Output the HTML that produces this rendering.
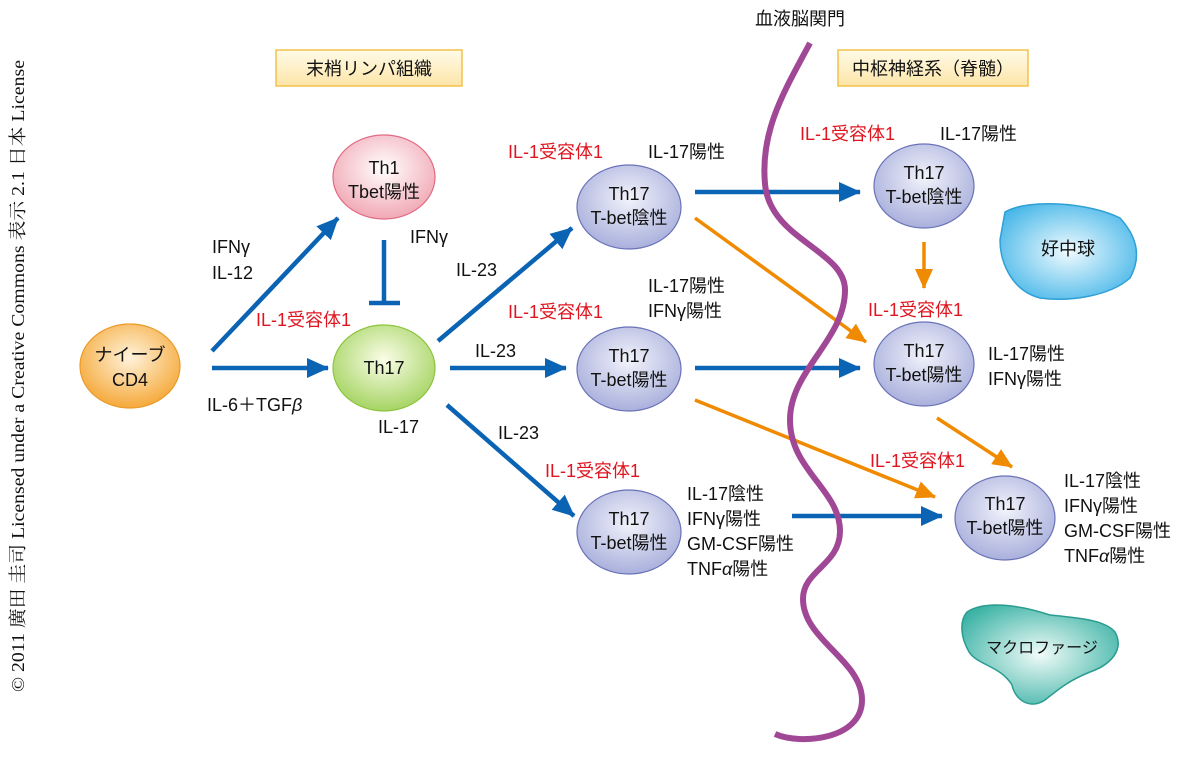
<!DOCTYPE html>
<html><head><meta charset="utf-8"><style>
body{margin:0;background:#fff;}
svg text{font-family:"Liberation Sans","Noto Sans CJK JP",sans-serif;font-size:18px;fill:#111;}
.r{fill:#e0141e !important;}
</style></head><body>
<svg width="1200" height="756" viewBox="0 0 1200 756" xmlns="http://www.w3.org/2000/svg">
<defs>
<radialGradient id="gO" cx="50%" cy="40%" r="60%"><stop offset="0" stop-color="#fff3dc"/><stop offset="1" stop-color="#f5a93a"/></radialGradient>
<radialGradient id="gP" cx="50%" cy="40%" r="60%"><stop offset="0" stop-color="#fff"/><stop offset="1" stop-color="#f1a8b4"/></radialGradient>
<radialGradient id="gG" cx="50%" cy="40%" r="60%"><stop offset="0" stop-color="#fafde8"/><stop offset="1" stop-color="#a6d463"/></radialGradient>
<radialGradient id="gB" cx="50%" cy="40%" r="60%"><stop offset="0" stop-color="#f2f3fb"/><stop offset="1" stop-color="#a9b0dc"/></radialGradient>
<radialGradient id="gC" cx="50%" cy="50%" r="60%"><stop offset="0" stop-color="#f0fbff"/><stop offset="1" stop-color="#46b6e8"/></radialGradient>
<radialGradient id="gT" cx="50%" cy="50%" r="60%"><stop offset="0" stop-color="#f0fbf8"/><stop offset="1" stop-color="#3db3a6"/></radialGradient>
<linearGradient id="gY" x1="0" y1="0" x2="0" y2="1"><stop offset="0" stop-color="#fffbe8"/><stop offset="1" stop-color="#fde5a8"/></linearGradient>
<marker id="aB" markerWidth="22" markerHeight="20" refX="21" refY="10" orient="auto" markerUnits="userSpaceOnUse" viewBox="0 0 22 20"><path d="M0,0 L22,10 L0,20z" fill="#0a63b3"/></marker>
<marker id="aO" markerWidth="20" markerHeight="18" refX="19" refY="9" orient="auto" markerUnits="userSpaceOnUse" viewBox="0 0 20 18"><path d="M0,0 L20,9 L0,18z" fill="#f08a00"/></marker>
</defs>

<text x="0" y="0" transform="translate(24,692) rotate(-90)" textLength="632" lengthAdjust="spacingAndGlyphs" style="font-family:'Liberation Serif','Noto Serif CJK SC',serif;font-size:18px">© 2011 廣田 圭司 Licensed under a Creative Commons 表示 2.1 日本 License</text>

<rect x="276" y="50" width="186" height="36" fill="url(#gY)" stroke="#f2c24a" stroke-width="1.5"/>
<text x="369" y="75" text-anchor="middle">末梢リンパ組織</text>
<rect x="838" y="50" width="190" height="36" fill="url(#gY)" stroke="#f2c24a" stroke-width="1.5"/>
<text x="933" y="75" text-anchor="middle">中枢神経系（脊髄）</text>
<text x="800" y="25" text-anchor="middle">血液脳関門</text>

<path d="M1005,212 C1030,198 1090,203 1120,218 C1140,240 1140,260 1130,278 C1110,296 1070,302 1040,298 C1010,290 1000,260 1000,240 Z" fill="url(#gC)" stroke="#2f9fd6" stroke-width="1.5"/>
<text x="1068" y="255" text-anchor="middle">好中球</text>
<path d="M967,612 C985,600 1020,605 1050,615 C1080,618 1105,620 1115,632 C1125,650 1110,665 1090,672 C1070,680 1060,688 1045,700 C1030,710 1015,700 1012,685 C1000,665 975,665 968,650 C960,635 960,620 967,612 Z" fill="url(#gT)" stroke="#2a9c90" stroke-width="1.5"/>
<text x="1042" y="653" text-anchor="middle" style="font-size:16px">マクロファージ</text>

<g stroke="#0a63b3" stroke-width="4.5" fill="none">
<line x1="212" y1="351" x2="338" y2="218" marker-end="url(#aB)"/>
<line x1="212" y1="368" x2="328" y2="368" marker-end="url(#aB)"/>
<line x1="384" y1="240" x2="384" y2="303"/>
<line x1="369" y1="303" x2="400" y2="303"/>
<line x1="438" y1="341" x2="572" y2="228" marker-end="url(#aB)"/>
<line x1="450" y1="368" x2="566" y2="368" marker-end="url(#aB)"/>
<line x1="447" y1="405" x2="574" y2="516" marker-end="url(#aB)"/>
<line x1="695" y1="192" x2="860" y2="192" marker-end="url(#aB)"/>
<line x1="695" y1="368" x2="860" y2="368" marker-end="url(#aB)"/>
<line x1="792" y1="516" x2="942" y2="516" marker-end="url(#aB)"/>
</g>
<g stroke="#f08a00" stroke-width="3.5" fill="none">
<line x1="924" y1="242" x2="924" y2="288" marker-end="url(#aO)"/>
<line x1="695" y1="218" x2="866" y2="342" marker-end="url(#aO)"/>
<line x1="937" y1="418" x2="1012" y2="467" marker-end="url(#aO)"/>
<line x1="695" y1="400" x2="935" y2="497" marker-end="url(#aO)"/>
</g>

<path d="M810,43 C785,90 760,130 765,184 C770,240 845,250 845,290 C845,340 790,370 790,420 C790,470 840,490 840,531 C840,565 803,570 803,599 C803,640 862,660 862,700 C862,740 800,745 775,734" fill="none" stroke="#a04896" stroke-width="6"/>

<ellipse cx="130" cy="366" rx="50" ry="42" fill="url(#gO)" stroke="#eb9a2a" stroke-width="1.2"/>
<text x="130" y="361" text-anchor="middle">ナイーブ</text><text x="130" y="386" text-anchor="middle">CD4</text>
<ellipse cx="384" cy="177" rx="51" ry="42" fill="url(#gP)" stroke="#e06a84" stroke-width="1.2"/>
<text x="384" y="174" text-anchor="middle">Th1</text><text x="384" y="198" text-anchor="middle">Tbet陽性</text>
<ellipse cx="384" cy="368" rx="51" ry="43" fill="url(#gG)" stroke="#8cc43e" stroke-width="1.2"/>
<text x="384" y="374" text-anchor="middle">Th17</text>

<g fill="url(#gB)" stroke="#6a72b8" stroke-width="1.2">
<ellipse cx="629" cy="207" rx="52" ry="42"/>
<ellipse cx="629" cy="369" rx="52" ry="42"/>
<ellipse cx="629" cy="532" rx="52" ry="42"/>
<ellipse cx="924" cy="186" rx="50" ry="42"/>
<ellipse cx="924" cy="364" rx="50" ry="42"/>
<ellipse cx="1005" cy="518" rx="50" ry="42"/>
</g>
<text x="629" y="200" text-anchor="middle">Th17</text><text x="629" y="224" text-anchor="middle">T-bet陰性</text>
<text x="629" y="362" text-anchor="middle">Th17</text><text x="629" y="386" text-anchor="middle">T-bet陽性</text>
<text x="629" y="525" text-anchor="middle">Th17</text><text x="629" y="549" text-anchor="middle">T-bet陽性</text>
<text x="924" y="179" text-anchor="middle">Th17</text><text x="924" y="203" text-anchor="middle">T-bet陰性</text>
<text x="924" y="357" text-anchor="middle">Th17</text><text x="924" y="381" text-anchor="middle">T-bet陽性</text>
<text x="1005" y="510" text-anchor="middle">Th17</text><text x="1005" y="534" text-anchor="middle">T-bet陽性</text>

<text x="212" y="253">IFNγ</text><text x="212" y="279">IL-12</text>
<text x="410" y="243">IFNγ</text>
<text class="r" x="256" y="326">IL-1受容体1</text>
<text x="207" y="411">IL-6＋TGF<tspan font-style="italic">β</tspan></text>
<text x="378" y="433">IL-17</text>
<text x="456" y="276">IL-23</text>
<text x="475" y="357">IL-23</text>
<text x="498" y="439">IL-23</text>
<text class="r" x="508" y="158">IL-1受容体1</text><text x="648" y="158">IL-17陽性</text>
<text x="648" y="292">IL-17陽性</text><text x="648" y="317">IFNγ陽性</text>
<text class="r" x="508" y="318">IL-1受容体1</text>
<text class="r" x="545" y="477">IL-1受容体1</text>
<text x="687" y="500">IL-17陰性</text><text x="687" y="525">IFNγ陽性</text><text x="687" y="550">GM-CSF陽性</text><text x="687" y="575">TNF<tspan font-style="italic">α</tspan>陽性</text>
<text class="r" x="800" y="140">IL-1受容体1</text><text x="940" y="140">IL-17陽性</text>
<text class="r" x="868" y="316">IL-1受容体1</text>
<text x="988" y="360">IL-17陽性</text><text x="988" y="385">IFNγ陽性</text>
<text class="r" x="870" y="467">IL-1受容体1</text>
<text x="1064" y="487">IL-17陰性</text><text x="1064" y="512">IFNγ陽性</text><text x="1064" y="537">GM-CSF陽性</text><text x="1064" y="562">TNF<tspan font-style="italic">α</tspan>陽性</text>
</svg>
</body></html>
